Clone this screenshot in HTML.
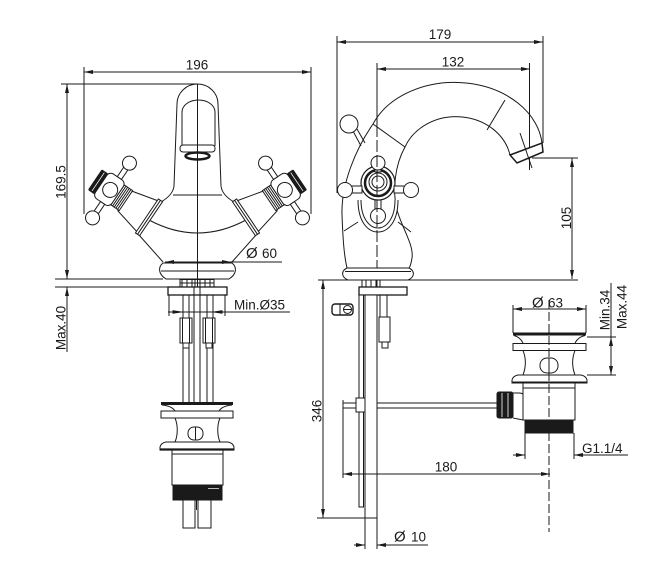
<!DOCTYPE html>
<html><head><meta charset="utf-8"><style>
html,body{margin:0;padding:0;background:#fff;}
svg{display:block;}
text{font-family:"Liberation Sans",Arial,sans-serif;font-size:13.5px;fill:#1a1a1a;stroke:none;}
</style></head><body>
<svg width="656" height="571" viewBox="0 0 656 571" xmlns="http://www.w3.org/2000/svg">
<defs>
<marker id="a" viewBox="0 0 9 4" refX="9" refY="2" markerWidth="9" markerHeight="4" markerUnits="userSpaceOnUse" orient="auto-start-reverse"><path d="M0,0L9,2L0,4z" fill="#1a1a1a"/></marker>
<g id="lh">
 <path d="M17,-11 L46,-18 L46,20 L17,13 Z" fill="#fff"/>
 <rect x="44" y="-19.5" width="5" height="41" fill="#fff"/>
 <line x1="46.5" y1="-19.5" x2="46.5" y2="21.5"/>
 <rect x="8" y="-12" width="10" height="24" fill="#fff"/>
 <path d="M10,-12V12M12,-12V12M14,-12V12M16,-12V12"/>
 <rect x="-12" y="-15" width="20" height="30" rx="5" fill="#fff"/>
 <rect x="-19" y="-12" width="7" height="24" rx="1" fill="#1a1a1a"/>
 <line x1="-15.5" y1="-11" x2="-15.5" y2="11" stroke="#fff" stroke-width="0.8"/>
 <circle cx="-1" cy="0" r="7.5"/>
 <rect x="-2.5" y="-27" width="5" height="12" fill="#fff"/>
 <rect x="-2.5" y="15" width="5" height="12" fill="#fff"/>
 <circle cx="0" cy="-33" r="7" fill="#fff"/>
 <circle cx="0" cy="33" r="7" fill="#fff"/>
</g>
</defs>
<rect width="656" height="571" fill="#fff"/>
<g fill="none" stroke="#1a1a1a" stroke-width="1">

<!-- ===== LEFT VIEW dimensions ===== -->
<line x1="84" y1="72" x2="311" y2="72" marker-start="url(#a)" marker-end="url(#a)"/>
<line x1="84" y1="67" x2="84" y2="214"/>
<line x1="311" y1="67" x2="311" y2="214"/>
<line x1="67" y1="84" x2="67" y2="279" marker-start="url(#a)" marker-end="url(#a)"/>
<line x1="61" y1="84" x2="197" y2="84"/>
<line x1="55" y1="279" x2="163" y2="279"/>
<line x1="55" y1="287" x2="168" y2="287"/>
<line x1="67" y1="287" x2="67" y2="352" marker-start="url(#a)"/>

<!-- spout -->
<path d="M161,202 Q173,195 174,186 L177,104 A20.5,20 0 0 1 218,104 L221,186 Q222,195 234,202"/>
<path d="M182,146 L182,112 A16.5,12 0 0 1 215,112 L215,146"/>
<rect x="180" y="145" width="35" height="7" rx="3" fill="#fff"/>
<ellipse cx="197.5" cy="156" rx="12" ry="3.5" stroke-width="2.5"/>
<line x1="173" y1="195" x2="222" y2="195"/>
<path d="M149,220 Q197.5,246 246,220"/>
<line x1="139" y1="235" x2="163" y2="262"/>
<line x1="256" y1="235" x2="232" y2="262"/>

<!-- handles -->
<use href="#lh" transform="translate(111,190.5) rotate(34)"/>
<use href="#lh" transform="translate(395,0) scale(-1,1) translate(111,190.5) rotate(34)"/>

<!-- base -->
<path d="M163,263 L232,263 C237,267 237,274 229,279 L166,279 C158,274 158,267 163,263Z" fill="#fff"/>
<line x1="161" y1="271" x2="234" y2="271"/>
<line x1="197.5" y1="84" x2="197.5" y2="287"/>
<line x1="165" y1="262" x2="231" y2="262" marker-start="url(#a)" marker-end="url(#a)"/>
<line x1="231" y1="262" x2="282" y2="262"/>

<!-- under base left -->
<rect x="180" y="279.5" width="34" height="7.5"/>
<path d="M182,280V287M187,280V287M192,280V287M195,280V287M200,280V287M205,280V287M210,280V287M180,283H214"/>
<rect x="168" y="287" width="59" height="8" stroke-width="1.3" fill="#fff"/>
<line x1="169" y1="295" x2="169" y2="316"/>
<line x1="225" y1="295" x2="225" y2="316"/>
<line x1="168" y1="312" x2="290" y2="312"/>
<path d="M173,310.8L181,312L173,313.2Z M222,310.8L214,312L222,313.2Z" fill="#1a1a1a"/>
<path d="M183,295V402M189,295V402M207,295V402M213,295V402M194,287V402M200,287V402"/>
<rect x="180" y="318" width="12" height="25" fill="#fff"/>
<rect x="183" y="343" width="6" height="5" fill="#fff"/>
<rect x="203" y="318" width="12" height="25" fill="#fff"/>
<rect x="206" y="343" width="6" height="5" fill="#fff"/>
<path d="M182.5,318V343M189.5,318V343M205.5,318V343M212.5,318V343"/>

<!-- pop-up left -->
<line x1="161" y1="403.5" x2="233" y2="403.5" stroke-width="3"/>
<path d="M162,405 Q172,406 175,411 M232,405 Q222,406 219,411"/>
<rect x="161" y="411" width="72" height="7" fill="#fff"/>
<path d="M175,418 C178,425 178,435 175,442 M220,418 C217,425 217,435 220,442"/>
<rect x="188" y="427" width="15" height="13" rx="6"/>
<line x1="195.5" y1="427" x2="195.5" y2="440"/>
<path d="M166,442 L228,442 Q233,443 234,447 L234,450 L160,450 L160,447 Q161,443 166,442Z" fill="#fff"/>
<line x1="160" y1="449.5" x2="234" y2="449.5" stroke-width="2.2"/>
<rect x="172" y="450" width="51" height="35"/>
<line x1="172" y1="454" x2="223" y2="454"/>
<rect x="173" y="485" width="49" height="15" fill="#1a1a1a"/>
<line x1="208" y1="488.5" x2="219" y2="488.5" stroke="#fff" stroke-width="0.7"/>
<rect x="183" y="500" width="12" height="28"/>
<rect x="198" y="500" width="13" height="28"/>
<line x1="196.5" y1="500" x2="196.5" y2="510"/>

<!-- ===== RIGHT VIEW ===== -->
<line x1="337" y1="42" x2="543" y2="42" marker-start="url(#a)" marker-end="url(#a)"/>
<line x1="337" y1="36" x2="337" y2="193"/>
<line x1="543" y1="36" x2="543" y2="143"/>
<line x1="377" y1="69" x2="530" y2="69" marker-start="url(#a)" marker-end="url(#a)"/>
<line x1="529.5" y1="63" x2="529.5" y2="170"/>
<line x1="377" y1="63" x2="377" y2="125"/>

<!-- spout -->
<path d="M373,124 A88,67 0 0 1 542,143"/>
<path d="M405,147 A55,48 0 0 1 510,155"/>
<line x1="505" y1="100" x2="487" y2="130"/>
<path d="M510,155 L542,143 L543,152 L517,163 Z" stroke-width="1.5" fill="#fff"/>
<line x1="520" y1="133" x2="532" y2="168"/>
<line x1="532" y1="158" x2="578" y2="158"/>
<line x1="572" y1="158" x2="572" y2="279" marker-start="url(#a)" marker-end="url(#a)"/>

<!-- body -->
<line x1="373" y1="124" x2="405" y2="147"/>
<path d="M373,124 C355,150 341,185 342,215 C343,240 344,255 347,268"/>
<path d="M405,147 C395,165 392,190 397,210 C402,228 414,245 412,258 C411,264 410,267 409,268"/>
<path d="M353,131 L361,146 M357,129 L365,143"/>
<circle cx="349" cy="124" r="9" fill="#fff"/>
<line x1="344" y1="231" x2="358" y2="222"/>
<line x1="398" y1="222" x2="411" y2="232"/>
<path d="M358,200 C358,222 368,232 378,232 C388,232 398,222 398,200" fill="#fff"/>
<path d="M361,200 C361,219 370,228 378,228 C386,228 395,219 395,200"/>
<rect x="375" y="199" width="6" height="10" fill="#fff"/>
<circle cx="378" cy="216" r="7.5" fill="#fff"/>
<circle cx="378" cy="183" r="17" fill="#fff" stroke-width="1.2"/>
<circle cx="378" cy="183" r="13" stroke-width="2.5"/>
<circle cx="378" cy="182" r="9" fill="#fff"/>
<circle cx="378" cy="182" r="6"/>
<rect x="351" y="186" width="11" height="7" fill="#fff"/>
<rect x="394" y="186" width="11" height="7" fill="#fff"/>
<rect x="375" y="167" width="6" height="5" fill="#fff"/>
<circle cx="345" cy="190" r="7.5" fill="#fff"/>
<circle cx="411" cy="190" r="7.5" fill="#fff"/>
<circle cx="378" cy="163" r="7" fill="#fff"/>
<line x1="377" y1="125" x2="377" y2="292" stroke-dasharray="12,3"/>

<!-- base right -->
<path d="M347,268 L409,268 C415,271 415,277 408,280 L348,280 C341,277 341,271 347,268Z" fill="#fff"/>
<line x1="345" y1="271.5" x2="411" y2="271.5"/>
<line x1="318" y1="280" x2="578" y2="280"/>

<!-- under base right -->
<rect x="362" y="280" width="18" height="7"/>
<path d="M366,280V287M371,280V287M376,280V287"/>
<rect x="359" y="287" width="48" height="8" fill="#fff" stroke-width="1.3"/>
<path d="M380,295V317M387,295V317"/>
<rect x="379" y="317" width="11" height="25" fill="#fff"/>
<rect x="382" y="342" width="6" height="6" fill="#fff"/>
<rect x="332" y="304" width="21" height="11" rx="3" stroke-width="1.4"/>
<line x1="340" y1="304" x2="340" y2="315"/>
<circle cx="347.5" cy="309.5" r="4"/>
<line x1="343.5" y1="309.5" x2="351.5" y2="309.5"/>

<!-- link rod -->
<path d="M343,403H498M343,408H498"/>
<line x1="343" y1="400" x2="343" y2="478"/>
<rect x="359" y="295" width="4.5" height="212" fill="#fff"/>
<rect x="356" y="398" width="10" height="14" fill="#fff"/>
<rect x="365" y="295" width="12" height="223" fill="#fff"/>

<!-- 346 / 10 / 180 -->
<line x1="323" y1="280" x2="323" y2="518" marker-start="url(#a)" marker-end="url(#a)"/>
<line x1="317" y1="518" x2="365" y2="518"/>
<line x1="365" y1="518" x2="365" y2="549"/>
<line x1="377" y1="518" x2="377" y2="549"/>
<line x1="354" y1="545" x2="365" y2="545" marker-end="url(#a)"/>
<line x1="428" y1="545" x2="377" y2="545" marker-end="url(#a)"/>
<line x1="343" y1="474" x2="550" y2="474" marker-start="url(#a)" marker-end="url(#a)"/>

<!-- connector -->
<path d="M513,393 L520,393 Q530,395 530,406 Q530,416 523,420 L513,418" fill="#fff"/>
<rect x="497" y="392" width="16" height="26" rx="2" fill="#1a1a1a"/>
<path d="M502,393V417M508,393V417" stroke="#fff" stroke-width="0.8"/>

<!-- pop-up right -->
<line x1="513" y1="334" x2="586" y2="334" stroke-width="3"/>
<path d="M514,335.5 Q520,337 523,343 M585,335.5 Q578,337 575,343"/>
<rect x="513" y="343.5" width="73" height="7" fill="#fff"/>
<path d="M523,350.5 C526,358 526,367 523,375 M575,350.5 C572,358 572,367 575,375"/>
<rect x="540" y="358" width="18" height="15" rx="7"/>
<line x1="549" y1="358" x2="549" y2="373"/>
<path d="M518,375 L581,375 Q586,376 587,380 L587,383 L512,383 L512,380 Q513,376 518,375Z" fill="#fff"/>
<line x1="512" y1="382.5" x2="587" y2="382.5" stroke-width="2"/>
<rect x="523" y="383" width="52" height="37" fill="#fff"/>
<line x1="523" y1="388" x2="575" y2="388"/>
<rect x="525" y="420" width="48" height="13" fill="#1a1a1a"/>
<line x1="549" y1="300" x2="549" y2="532" stroke-dasharray="9,3"/>
<line x1="525" y1="433" x2="525" y2="459"/>
<line x1="574" y1="433" x2="574" y2="459"/>
<line x1="513" y1="455" x2="525" y2="455" marker-end="url(#a)"/>
<line x1="628" y1="455" x2="574" y2="455" marker-end="url(#a)"/>
<line x1="513" y1="305" x2="513" y2="333"/>
<line x1="586" y1="305" x2="586" y2="333"/>
<line x1="513" y1="309" x2="586" y2="309" marker-start="url(#a)" marker-end="url(#a)"/>
<line x1="587" y1="337" x2="616" y2="337"/>
<line x1="587" y1="375" x2="616" y2="375"/>
<line x1="611" y1="283" x2="611" y2="337"/>
<line x1="611" y1="337" x2="611" y2="375" marker-start="url(#a)" marker-end="url(#a)"/>
</g>

<!-- texts -->
<text x="197" y="69.5" text-anchor="middle">196</text>
<text transform="translate(65.5,182) rotate(-90)" text-anchor="middle">169.5</text>
<text transform="translate(65.5,328) rotate(-90)" text-anchor="middle">Max.40</text>
<text x="246" y="258" style="font-size:15px">Ø</text>
<text x="262" y="258">60</text>
<text x="234" y="309.5">Min.Ø35</text>
<text x="440" y="39" text-anchor="middle">179</text>
<text x="453" y="66.5" text-anchor="middle">132</text>
<text transform="translate(571,218) rotate(-90)" text-anchor="middle">105</text>
<text transform="translate(321.5,411) rotate(-90)" text-anchor="middle">346</text>
<text x="532" y="307.5" style="font-size:15px">Ø</text>
<text x="548" y="307.5">63</text>
<text transform="translate(609.5,310) rotate(-90)" text-anchor="middle">Min.34</text>
<text transform="translate(626.5,307) rotate(-90)" text-anchor="middle">Max.44</text>
<text x="582" y="453">G1.1/4</text>
<text x="446" y="471.5" text-anchor="middle">180</text>
<text x="394" y="541.5" style="font-size:15px">Ø</text>
<text x="411" y="541.5">10</text>
</svg>
</body></html>
